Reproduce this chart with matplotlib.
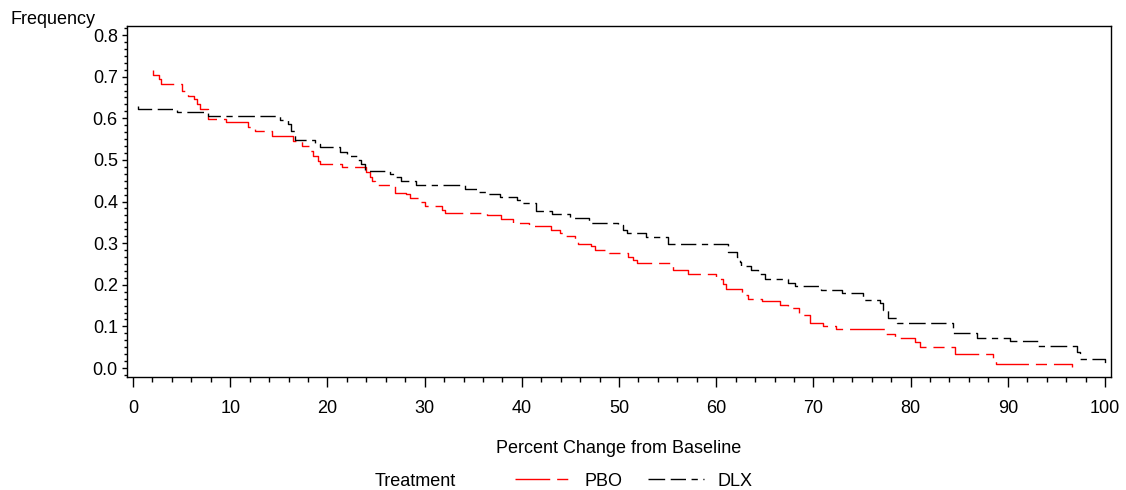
import matplotlib
matplotlib.use("Agg")
import matplotlib.pyplot as plt
from matplotlib.ticker import MultipleLocator, FormatStrFormatter

plt.rcParams['font.family'] = ['Liberation Sans', 'DejaVu Sans']

# step points (x where the curve drops, value after the drop)
PBO_X = [2.1, 2.1, 2.7, 2.9, 5.0, 5.7, 6.3, 6.6, 6.9, 7.7, 9.6, 11.8, 12.5, 14.3,
         16.5, 17.4, 18.2, 18.5, 19.0, 19.2, 21.5, 24.0, 24.4, 24.6, 24.9, 27.0,
         28.1, 28.5, 29.4, 30.0, 31.8, 32.1, 36.4, 37.9, 39.1, 40.7, 43.0, 43.9,
         44.2, 45.5, 45.8, 47.1, 47.5, 49.0, 50.9, 51.4, 51.8, 55.6, 57.1, 60.0,
         60.7, 61.0, 62.7, 63.3, 64.7, 66.6, 67.4, 68.5, 69.7, 71.0, 72.3, 77.5,
         78.4, 80.5, 81.0, 84.6, 88.5, 88.8, 96.6]
PBO_Y = [0.715, 0.705, 0.695, 0.683, 0.666, 0.654, 0.647, 0.635, 0.623, 0.599,
         0.590, 0.580, 0.570, 0.558, 0.546, 0.534, 0.522, 0.510, 0.498, 0.490,
         0.484, 0.472, 0.460, 0.450, 0.440, 0.421, 0.417, 0.409, 0.398, 0.390,
         0.380, 0.373, 0.368, 0.357, 0.349, 0.341, 0.331, 0.324, 0.316, 0.307,
         0.299, 0.292, 0.283, 0.277, 0.267, 0.260, 0.252, 0.235, 0.227, 0.215,
         0.203, 0.191, 0.175, 0.167, 0.160, 0.152, 0.143, 0.127, 0.107, 0.101,
         0.093, 0.081, 0.073, 0.063, 0.051, 0.034, 0.019, 0.009, 0.002]

DLX_X = [0.55, 0.55, 4.5, 7.7, 15.1, 15.9, 16.3, 16.7, 18.7, 19.2, 21.3, 22.0,
         23.1, 23.5, 23.9, 26.4, 26.9, 27.6, 29.1, 34.2, 35.5, 36.4, 37.8, 39.5,
         40.0, 41.5, 43.1, 45.0, 46.9, 49.9, 50.4, 50.8, 52.8, 55.0, 61.2, 62.1,
         62.4, 62.6, 63.6, 64.3, 65.0, 67.4, 68.1, 70.8, 72.9, 75.1, 76.9, 77.2,
         77.7, 78.6, 84.4, 86.8, 90.2, 93.1, 97.1, 97.4, 100.0]
DLX_Y = [0.630, 0.622, 0.614, 0.605, 0.596, 0.587, 0.570, 0.548, 0.538, 0.530,
         0.520, 0.510, 0.500, 0.491, 0.474, 0.466, 0.458, 0.450, 0.440, 0.429,
         0.422, 0.418, 0.410, 0.404, 0.396, 0.377, 0.371, 0.360, 0.348, 0.343,
         0.332, 0.324, 0.315, 0.297, 0.279, 0.267, 0.255, 0.244, 0.235, 0.227,
         0.215, 0.205, 0.198, 0.187, 0.180, 0.163, 0.155, 0.139, 0.119, 0.107,
         0.083, 0.071, 0.065, 0.053, 0.039, 0.021, 0.002]

FS = 13

fig = plt.figure(figsize=(11.26, 4.9), dpi=100)
ax = fig.add_axes([0.1128, 0.2306, 0.8739, 0.7163])

l_pbo, = ax.step(PBO_X, PBO_Y, where="post", color="#ff0000", lw=1.0,
                 linestyle=(0, (25, 5, 8, 5)), label="PBO")
l_dlx, = ax.step(DLX_X, DLX_Y, where="post", color="black", lw=1.0,
                 linestyle=(0, (12, 4, 11, 4, 4.5, 4)), label="DLX")

ax.set_xlim(-0.62, 100.62)
ax.set_ylim(-0.0216, 0.8216)
ax.xaxis.set_major_locator(MultipleLocator(10))
ax.xaxis.set_minor_locator(MultipleLocator(2))
ax.yaxis.set_major_locator(MultipleLocator(0.1))
ax.yaxis.set_minor_locator(MultipleLocator(0.1 / 6))
ax.yaxis.set_major_formatter(FormatStrFormatter("%.1f"))

ax.tick_params(axis="x", which="major", direction="out", length=7.2, width=1.0,
               pad=9, labelsize=FS)
ax.tick_params(axis="x", which="minor", direction="out", length=3.6, width=1.0)
ax.tick_params(axis="y", which="major", direction="out", length=3.6, width=1.0,
               pad=3, labelsize=FS)
ax.tick_params(axis="y", which="minor", direction="out", length=2.2, width=1.0)
for s in ax.spines.values():
    s.set_linewidth(1.0)

ax.set_xlabel("Percent Change from Baseline", fontsize=FS, labelpad=17)
fig.text(10 / 1126, 1 - 20 / 490, "Frequency", fontsize=FS, ha="left", va="center")

fig.text(375 / 1126, 1 - 481 / 490, "Treatment", fontsize=FS, ha="left", va="center")
fig.legend(handles=[l_pbo, l_dlx], loc="center left",
           bbox_to_anchor=(515 / 1126, 1 - 481 / 490), ncol=2, frameon=False,
           fontsize=FS, handlelength=3.1, handletextpad=0.75, columnspacing=1.4,
           borderpad=0, borderaxespad=0)

fig.savefig("out.png", dpi=100)
